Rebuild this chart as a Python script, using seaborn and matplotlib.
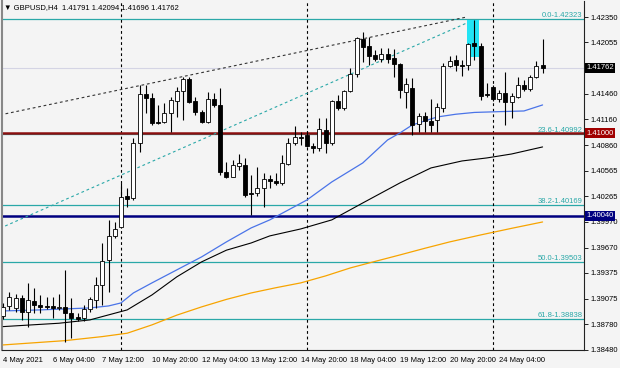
import matplotlib
matplotlib.use("Agg")
import matplotlib.pyplot as plt
import matplotlib.transforms as mtrans
from matplotlib.patches import Rectangle
import numpy as np
import pandas as pd
import seaborn as sns

# GBPUSD H4 candles, first bar 4 May 20:00, last bar 25 May 08:00
opens = [1.38876, 1.38992, 1.38965, 1.39081, 1.38926, 1.39054, 1.39004, 1.38992, 1.38992, 1.38969,
         1.38984, 1.38914, 1.38861, 1.38849, 1.38954, 1.39062, 1.39236, 1.39527, 1.39806, 1.39907,
         1.40271, 1.40244, 1.40883, 1.41456, 1.41406, 1.41134, 1.41134, 1.41232, 1.41378, 1.41494,
         1.41630, 1.41378, 1.41250, 1.41127, 1.41394, 1.41328, 1.40553, 1.40495, 1.40619, 1.40631,
         1.40302, 1.40302, 1.40360, 1.40465, 1.40448, 1.40418, 1.40642, 1.40883, 1.40953, 1.40979,
         1.40855, 1.40825, 1.41037, 1.40883, 1.41374, 1.41290, 1.41491, 1.41685, 1.42095, 1.42017,
         1.41909, 1.41862, 1.41917, 1.41871, 1.41801, 1.41482, 1.41529, 1.41104, 1.41204, 1.41142,
         1.41154, 1.41290, 1.41781, 1.41851, 1.41793, 1.41793, 1.42045, 1.42014, 1.41456, 1.41534,
         1.41394, 1.41471, 1.41366, 1.41417, 1.41560, 1.41510, 1.41657, 1.41791]
highs = [1.39023, 1.39158, 1.39131, 1.39120, 1.39256, 1.39201, 1.39120, 1.39100, 1.39100, 1.39131,
         1.39411, 1.39089, 1.38911, 1.39004, 1.39100, 1.39333, 1.39721, 1.39992, 1.39972, 1.40418,
         1.40360, 1.40941, 1.41560, 1.41560, 1.41464, 1.41328, 1.41348, 1.41424, 1.41541, 1.41657,
         1.41657, 1.41424, 1.41270, 1.41482, 1.41464, 1.41522, 1.40669, 1.40689, 1.40755, 1.40709,
         1.40515, 1.40611, 1.40534, 1.40515, 1.40534, 1.40747, 1.40941, 1.41084, 1.41018, 1.41026,
         1.40883, 1.41173, 1.41173, 1.41386, 1.41444, 1.41502, 1.41761, 1.42122, 1.42180, 1.42122,
         1.41967, 1.41987, 1.41987, 1.41979, 1.41812, 1.41638, 1.41645, 1.41232, 1.41250, 1.41398,
         1.41348, 1.41812, 1.41897, 1.41909, 1.41851, 1.42045, 1.42316, 1.42045, 1.41580, 1.41560,
         1.41502, 1.41715, 1.41471, 1.41657, 1.41618, 1.41677, 1.41843, 1.42094]
lows = [1.38837, 1.38945, 1.38926, 1.38829, 1.38751, 1.38911, 1.38911, 1.38954, 1.38849, 1.38945,
        1.38577, 1.38617, 1.38821, 1.38821, 1.38926, 1.38965, 1.39004, 1.39158, 1.39779, 1.39895,
        1.40146, 1.40224, 1.40785, 1.41232, 1.41096, 1.41107, 1.41115, 1.41018, 1.41192, 1.41154,
        1.41348, 1.41212, 1.41115, 1.41115, 1.41308, 1.40515, 1.40476, 1.40488, 1.40573, 1.40255,
        1.40050, 1.40271, 1.40146, 1.40360, 1.40398, 1.40398, 1.40631, 1.40863, 1.40863, 1.40843,
        1.40767, 1.40793, 1.40767, 1.40863, 1.41270, 1.41270, 1.41482, 1.41657, 1.41831, 1.41793,
        1.41839, 1.41824, 1.41812, 1.41657, 1.41413, 1.41290, 1.40979, 1.41018, 1.41018, 1.41011,
        1.41011, 1.41250, 1.41766, 1.41727, 1.41665, 1.41735, 1.41851, 1.41386, 1.41424, 1.41378,
        1.41366, 1.41096, 1.41173, 1.41406, 1.41494, 1.41494, 1.41638, 1.41696]
closes = [1.38977, 1.39100, 1.39081, 1.38926, 1.39062, 1.39004, 1.38984, 1.38977, 1.38969, 1.38984,
          1.38907, 1.38849, 1.38845, 1.38954, 1.39070, 1.39236, 1.39519, 1.39806, 1.39887, 1.40262,
          1.40239, 1.40890, 1.41456, 1.41406, 1.41115, 1.41122, 1.41232, 1.41386, 1.41494, 1.41630,
          1.41366, 1.41250, 1.41134, 1.41394, 1.41328, 1.40553, 1.40488, 1.40631, 1.40650, 1.40282,
          1.40294, 1.40360, 1.40465, 1.40448, 1.40418, 1.40650, 1.40883, 1.40953, 1.40941, 1.40855,
          1.40825, 1.41049, 1.40883, 1.41374, 1.41290, 1.41491, 1.41685, 1.42103, 1.42005, 1.41901,
          1.41862, 1.41917, 1.41862, 1.41801, 1.41502, 1.41568, 1.41096, 1.41204, 1.41142, 1.41096,
          1.41308, 1.41781, 1.41843, 1.41793, 1.41781, 1.42037, 1.42014, 1.41433, 1.41441, 1.41394,
          1.41471, 1.41366, 1.41433, 1.41560, 1.41510, 1.41657, 1.41781, 1.41762]

# moving averages (bar index, price)
ma_blue_idx = [0, 6, 14, 17, 19, 21, 24, 28, 32, 36, 40, 43, 46, 49, 53, 58, 62, 64, 66, 70, 73, 76, 80, 84, 87]
ma_blue = [1.38934, 1.38946, 1.38969, 1.38992, 1.39027, 1.39143, 1.39260, 1.39411, 1.39562, 1.39736,
           1.39899, 1.39992, 1.40108, 1.40224, 1.40433, 1.40654, 1.40921, 1.41003, 1.41096, 1.41188,
           1.41220, 1.41241, 1.41250, 1.41258, 1.41328]
ma_black_idx = [0, 9, 14, 17, 20, 24, 28, 32, 36, 40, 43, 48, 53, 58, 64, 69, 74, 78, 82, 87]
ma_black = [1.38752, 1.38791, 1.38830, 1.38888, 1.38946, 1.39120, 1.39330, 1.39504, 1.39640, 1.39724,
            1.39806, 1.39887, 1.39992, 1.40189, 1.40422, 1.40596, 1.40677, 1.40712, 1.40758, 1.40840]
ma_orange_idx = [0, 10, 16, 20, 24, 28, 32, 36, 40, 44, 48, 52, 56, 60, 64, 68, 72, 77, 82, 87]
ma_orange = [1.38539, 1.38589, 1.38636, 1.38675, 1.38772, 1.38885, 1.38981, 1.39068, 1.39143, 1.39204,
             1.39260, 1.39341, 1.39434, 1.39510, 1.39585, 1.39662, 1.39736, 1.39817, 1.39894, 1.39968]

# fibonacci levels
fib_names = ["0.0", "23.6", "38.2", "50.0", "61.8"]
fib_levels = [1.42323, 1.40992, 1.40169, 1.39503, 1.38838]

# horizontal levels with price tags
support_hi = 1.41000
support_lo = 1.40040
last_price = 1.41762

# drawn objects
trend_black = ([-0.5, 74.5], [1.41212, 1.42346])
trend_teal = ([-0.5, 75.9], [1.39895, 1.42316])
highlight_box = (74.76, 76.8, 1.41889, 1.42316)
separators = [19, 49, 79]

tick_pos = [0, 8, 16, 24, 32, 40, 48, 56, 64, 72, 80]
tick_labels = ["4 May 2021", "6 May 04:00", "7 May 12:00", "10 May 20:00", "12 May 04:00",
               "13 May 12:00", "14 May 20:00", "18 May 04:00", "19 May 12:00", "20 May 20:00",
               "24 May 04:00"]
price_ticks = [1.42350, 1.42055, 1.41460, 1.41160, 1.40860, 1.40565, 1.40265, 1.39970,
               1.39670, 1.39375, 1.39075, 1.38780, 1.38480]

df = pd.DataFrame({"open": opens, "high": highs, "low": lows, "close": closes})
df["i"] = np.arange(len(df))
df["bull"] = df["close"] >= df["open"]

sns.set_style("white")
plt.rcParams["font.family"] = ["Liberation Sans", "DejaVu Sans"]
fs = 5.5
teal = "#2aa8a8"
bg = "#f4f4f4"

fig = plt.figure(figsize=(6.2, 3.68), dpi=100, facecolor=bg)
ax = fig.add_axes([2 / 620, 18 / 368, 582 / 620, 349 / 368], facecolor=bg)

# fib levels
for name, lv in zip(fib_names, fib_levels):
    ax.axhline(lv, color=teal, lw=0.9, zorder=1)
    ax.text(0.997, lv, f"{name}-{lv:.5f}", transform=ax.get_yaxis_transform(),
            ha="right", va="bottom", color=teal, fontsize=fs, zorder=6)

ax.axhline(last_price, color="#d4d4e4", lw=0.8, zorder=1)
ax.axhline(support_hi, color="#8b1010", lw=1.8, zorder=2)
ax.axhline(support_lo, color="#000080", lw=1.8, zorder=2)

for s in separators:
    ax.axvline(s, color="black", lw=0.8, ls=(0, (2.5, 2.5)), zorder=1)

ax.plot(*trend_black, color="#333333", lw=0.8, ls=(0, (2.5, 2.5)), zorder=2)
ax.plot(*trend_teal, color=teal, lw=0.8, ls=(0, (2.5, 2.5)), zorder=2)

x0, x1, y0, y1 = highlight_box
ax.add_patch(Rectangle((x0, y0), x1 - x0, y1 - y0, color="#22e4f4", lw=0, zorder=2))

# moving averages
sns.lineplot(x=ma_orange_idx, y=ma_orange, color="#f7a400", lw=0.9, ax=ax, zorder=3)
sns.lineplot(x=ma_black_idx, y=ma_black, color="black", lw=0.8, ax=ax, zorder=3)
sns.lineplot(x=ma_blue_idx, y=ma_blue, color="#4a74e8", lw=0.9, ax=ax, zorder=3)

# candles
ax.vlines(df["i"], df["low"], df["high"], color="black", lw=0.8, zorder=4)
body_lo = df[["open", "close"]].min(axis=1)
body_h = (df["close"] - df["open"]).abs().clip(lower=0.00002)
ax.bar(df["i"], body_h, bottom=body_lo, width=0.62,
       color=np.where(df["bull"], "white", "black"), edgecolor="black", lw=0.6, zorder=5)

ax.set_xlim(-0.19, 93.68)
ax.set_ylim(1.38481, 1.42536)

ax.yaxis.tick_right()
ax.set_yticks(price_ticks)
ax.set_yticklabels([f"{p:.5f}" for p in price_ticks], fontsize=fs)
ax.set_xticks(tick_pos)
ax.set_xticklabels(tick_labels, fontsize=fs, ha="left")
ax.tick_params(axis="both", length=3, width=0.6, pad=1.5, color="black", labelcolor="black")
ax.tick_params(axis="x", pad=2)
ax.set_xlabel("")
ax.set_ylabel("")

for side in ["left", "right", "bottom"]:
    ax.spines[side].set_visible(True)
    ax.spines[side].set_color("#222222")
    ax.spines[side].set_linewidth(0.8)
ax.spines["left"].set_color("#888888")
ax.spines["left"].set_linewidth(1.5)
ax.spines["top"].set_visible(False)

# price tags on the axis
tr = mtrans.blended_transform_factory(ax.transAxes, ax.transData)
for val, col in [(last_price, "black"), (support_hi, "#a00000"), (support_lo, "#000080")]:
    ax.text(1.004, val, f"{val:.5f}", transform=tr, ha="left", va="center", color="white",
            fontsize=fs, zorder=10, clip_on=False,
            bbox=dict(boxstyle="square,pad=0.2", fc=col, ec="none"))

fig.text(4 / 620, 1 - 8 / 368, "\u25bc GBPUSD,H4  1.41791 1.42094 1.41696 1.41762",
         fontsize=fs, va="center", ha="left", color="black")

fig.savefig("out.png", dpi=100, facecolor=bg)
